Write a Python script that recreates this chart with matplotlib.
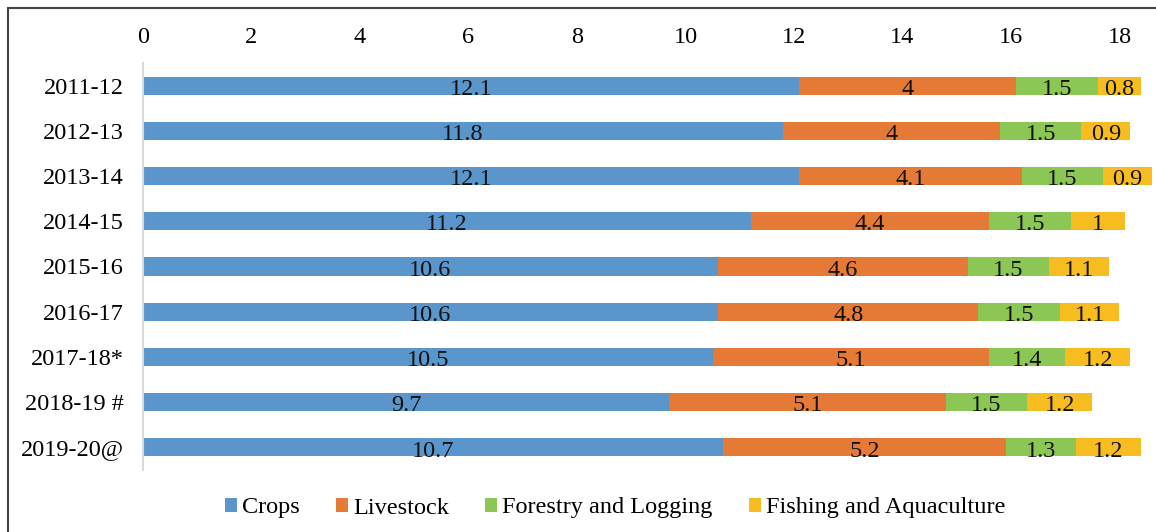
import matplotlib
matplotlib.use("Agg")
import matplotlib.pyplot as plt
from matplotlib.patches import Rectangle
import numpy as np

years = ["2011-12", "2012-13", "2013-14", "2014-15", "2015-16", "2016-17",
         "2017-18*", "2018-19 #", "2019-20@"]
crops = [12.1, 11.8, 12.1, 11.2, 10.6, 10.6, 10.5, 9.7, 10.7]
livestock = [4, 4, 4.1, 4.4, 4.6, 4.8, 5.1, 5.1, 5.2]
forestry = [1.5, 1.5, 1.5, 1.5, 1.5, 1.5, 1.4, 1.5, 1.3]
fishing = [0.8, 0.9, 0.9, 1, 1.1, 1.1, 1.2, 1.2, 1.2]
series_names = ["Crops", "Livestock", "Forestry and Logging", "Fishing and Aquaculture"]
xticks = [0, 2, 4, 6, 8, 10, 12, 14, 16, 18]

colors = ["#5A96CB", "#E57A37", "#8CC655", "#F7BC1F"]

plt.rcParams['font.family'] = ['Liberation Serif', 'DejaVu Serif']
FS = 17.5

fig = plt.figure(figsize=(11.56, 5.32), dpi=100)
ax = fig.add_axes([143/1156, 1-470/532, (1152-143)/1156, (470-63)/532])

y = np.arange(len(years))
left = np.zeros(len(years))
for name, vals, c in zip(series_names, [crops, livestock, forestry, fishing], colors):
    vals = np.array(vals, dtype=float)
    ax.barh(y, vals, left=left, height=0.4, color=c, label=name, edgecolor='none')
    for yi, l, v in zip(y, left, vals):
        ax.text(l + v/2, yi + 0.08, f"{v:g}", ha='center', va='center', fontsize=FS, color='#111111')
    left = left + vals

ax.set_xlim(0, 18.6)
ax.set_ylim(len(years) - 0.5, -0.5)
ax.set_yticks(y)
ax.set_yticklabels(years, fontsize=FS)
ax.xaxis.tick_top()
ax.set_xticks(xticks)
ax.set_xticklabels([str(t) for t in xticks], fontsize=FS)
ax.tick_params(axis='y', length=0, pad=14)
ax.tick_params(axis='x', length=0, pad=11)
for s in ['top', 'right', 'bottom']:
    ax.spines[s].set_visible(False)
ax.spines['left'].set_color('#D9D9D9')
ax.spines['left'].set_linewidth(1.5)

leg = fig.legend(loc='center', bbox_to_anchor=(615/1156, 1-508/532), ncol=4, frameon=False,
                 fontsize=FS, handlelength=0.5, handleheight=0.5, handletextpad=0.2,
                 columnspacing=1.5)

fig.patches.append(Rectangle((8/1156, -0.1), 1.2, 1 - 8/532 + 0.1, transform=fig.transFigure,
                             fill=False, edgecolor='#444444', linewidth=1.5))

fig.savefig("out.png", dpi=100)
